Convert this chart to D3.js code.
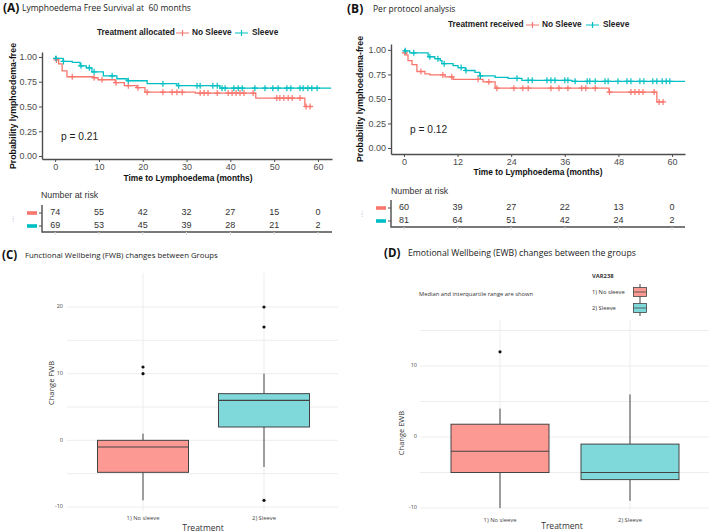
<!DOCTYPE html>
<html><head><meta charset="utf-8">
<script src="https://cdn.jsdelivr.net/npm/d3@7"></script>
<style>body{margin:0;background:#fff} svg{display:block} text{white-space:pre}</style>
</head><body><svg id="c" width="709" height="532"></svg>
<script>
// ================= DATA =================
const groupNames = ["No Sleeve", "Sleeve"];
const boxGroups = ["1) No sleeve", "2) Sleeve"];

// Panel A: Kaplan-Meier, treatment allocated
const kmA_noSleeve_time = [0, 0.2, 0.8, 1.6, 2.7, 8.7, 9.8, 13.7, 15.8, 18.7, 20.5, 32, 45.8, 57];
const kmA_noSleeve_surv = [1, 0.97, 0.93, 0.86, 0.80, 0.79, 0.77, 0.74, 0.71, 0.69, 0.645, 0.635, 0.585, 0.50];
const kmA_noSleeve_end = 58.8;
const kmA_noSleeve_censor = [0.3, 3.9, 8.9, 10.7, 13.9, 16.7, 18.9, 21, 24.6, 26.7, 27.8, 29, 33.1, 34, 34.9, 37, 39.5, 40.4, 41.3, 42.2, 43.1, 45.2, 50.6, 51.3, 52.2, 53.2, 54.1, 55.9, 57.3, 58.2];
const kmA_sleeve_time = [0, 0.1, 1.8, 3.9, 5.7, 7.1, 8.4, 11, 14.1, 16.4, 21, 27.8, 37.6];
const kmA_sleeve_surv = [1, 0.985, 0.955, 0.945, 0.91, 0.89, 0.85, 0.81, 0.78, 0.76, 0.73, 0.71, 0.685];
const kmA_sleeve_end = 63;
const kmA_sleeve_censor = [0.2, 1.9, 5.9, 7.8, 8.9, 13, 16.7, 24.6, 28.2, 32.4, 33.1, 36, 37, 38.1, 38.8, 40.8, 41.8, 42.7, 45.6, 47.9, 49.7, 50.9, 52.9, 53.8, 55.9, 56.6, 57.7, 58.6, 59.8];
const kmA_xTicks = [0, 10, 20, 30, 40, 50, 60];
const kmA_risk_noSleeve = [74, 55, 42, 32, 27, 15, 0];
const kmA_risk_sleeve = [69, 53, 45, 39, 28, 21, 2];

// Panel B: Kaplan-Meier, per protocol
const kmB_noSleeve_time = [0, 0.1, 0.45, 0.9, 1.8, 2.9, 4.7, 5.8, 9.2, 11, 17.7, 20.4, 45.9, 56.6];
const kmB_noSleeve_surv = [1, 0.97, 0.95, 0.89, 0.85, 0.78, 0.755, 0.745, 0.725, 0.70, 0.675, 0.61, 0.57, 0.47];
const kmB_noSleeve_end = 58;
const kmB_noSleeve_censor = [0.2, 3.8, 8.7, 10.7, 16.6, 19, 20.8, 24.6, 26.6, 27.8, 32.9, 34.7, 36.7, 39.8, 40.7, 42.8, 46, 50.8, 51.7, 52.6, 53.5, 56, 57.1, 58];
const kmB_sleeve_time = [0, 0.1, 1.3, 5.4, 6.9, 8.1, 8.5, 11, 12.1, 13.7, 15.9, 17, 20.4, 23.3, 26.4, 37.6];
const kmB_sleeve_surv = [1, 0.99, 0.97, 0.93, 0.91, 0.89, 0.86, 0.84, 0.82, 0.79, 0.77, 0.735, 0.72, 0.71, 0.69, 0.68];
const kmB_sleeve_end = 62.9;
const kmB_sleeve_censor = [0.3, 2.2, 5.8, 7.6, 9, 12.8, 13.9, 17.1, 25.3, 27.8, 28.7, 32, 32.9, 33.8, 36, 36.7, 38.3, 41, 41.6, 42.8, 45, 45.7, 47.9, 49.9, 50.8, 52.8, 53.7, 55.7, 56.6, 57.8, 58.7, 59.5];
const kmB_xTicks = [0, 12, 24, 36, 48, 60];
const kmB_risk_noSleeve = [60, 39, 27, 22, 13, 0];
const kmB_risk_sleeve = [81, 64, 51, 42, 24, 2];

const kmYTicks = [0, 0.25, 0.5, 0.75, 1];

// Panel C: FWB boxplots
const fwbQ1 = [-4.8, 2];
const fwbMedian = [-1, 6];
const fwbQ3 = [0, 7];
const fwbLow = [-9, -4];
const fwbHigh = [1, 10];
const fwbOutliers = [[10, 11], [20, 17, -9]];
const fwbTicks = [-10, 0, 10, 20];

// Panel D: EWB boxplots
const ewbQ1 = [-5, -6];
const ewbMedian = [-2, -5];
const ewbQ3 = [1.8, -1];
const ewbLow = [-10, -9];
const ewbHigh = [4, 6];
const ewbOutliers = [[12], []];
const ewbTicks = [-10, 0, 10];

// ================= DRAW =================
const RED = "#F8766D", CYAN = "#00BFC4";
const BOXRED = "#FC9992", BOXCYAN = "#7FD9DB";
const svg = d3.select("#c");
const KMFONT = "Liberation Sans, Arial, sans-serif";
const TFONT = "Open Sans, sans-serif";

function survAt(times, surv, t) {
  let s = surv[0];
  for (let i = 0; i < times.length; i++) if (times[i] <= t) s = surv[i];
  return s;
}

function drawKM(c) {
  const g = svg.append("g");
  const x = d3.scaleLinear().domain(c.xDom).range(c.xRange);
  const y = d3.scaleLinear().domain(c.yDom).range(c.yRange);
  // axes
  const yAx = g.append("g").attr("transform", `translate(${c.xRange[0]},0)`)
    .call(d3.axisLeft(y).tickValues(kmYTicks).tickFormat(d3.format(".2f")).tickSize(3).tickPadding(2).tickSizeOuter(0));
  const xAx = g.append("g").attr("transform", `translate(0,${c.yRange[0]})`)
    .call(d3.axisBottom(x).tickValues(c.xTicks).tickSize(3).tickPadding(1.5).tickSizeOuter(0));
  [yAx, xAx].forEach(a => {
    a.select(".domain").attr("stroke", "#4d4d4d").attr("stroke-width", 1.4);
    a.selectAll(".tick line").attr("stroke", "#4d4d4d");
    a.selectAll("text").attr("fill", "#4d4d4d").attr("font-size", 9).attr("font-family", KMFONT);
  });
  // curves
  const line = d3.line().x(d => x(d[0])).y(d => y(d[1])).curve(d3.curveStepAfter);
  c.series.forEach(s => {
    const pts = s.time.map((t, i) => [t, s.surv[i]]);
    pts.push([s.end, s.surv[s.surv.length - 1]]);
    g.append("path").attr("d", line(pts)).attr("fill", "none")
      .attr("stroke", s.color).attr("stroke-width", 1.3);
    g.selectAll(null).data(s.censor).enter().append("path")
      .attr("d", d => { const px = x(d), py = y(survAt(s.time, s.surv, d));
        return `M${px - 3},${py}H${px + 3}M${px},${py - 3}V${py + 3}`; })
      .attr("stroke", s.color).attr("stroke-width", 1.2);
  });
  // p value
  g.append("text").attr("x", c.pPos[0]).attr("y", c.pPos[1]).attr("dominant-baseline", "middle")
    .attr("font-family", KMFONT).attr("font-size", 10.2).attr("fill", "#222").text(c.pText);
  // axis titles
  g.append("text").attr("x", c.xTitlePos[0]).attr("y", c.xTitlePos[1]).attr("text-anchor", "middle")
    .attr("dominant-baseline", "middle").attr("font-family", KMFONT).attr("font-weight", "bold")
    .attr("font-size", 8.4).attr("fill", "#111").text("Time to Lymphoedema (months)");
  g.append("text").attr("transform", `translate(${c.yTitlePos[0]},${c.yTitlePos[1]}) rotate(-90)`)
    .attr("text-anchor", "middle").attr("dominant-baseline", "middle").attr("font-family", KMFONT)
    .attr("font-weight", "bold").attr("font-size", 8.8).attr("fill", "#111").text("Probability lymphoedema-free");
  // legend
  const lg = g.append("g").attr("font-family", KMFONT).attr("font-weight", "bold").attr("font-size", 8.3).attr("fill", "#222");
  lg.append("text").attr("x", c.leg.x0).attr("y", c.leg.y).attr("dominant-baseline", "middle").text(c.leg.title);
  c.leg.items.forEach((it, i) => {
    const col = i === 0 ? RED : CYAN;
    lg.append("path").attr("d", `M${it.lx},${c.leg.y}H${it.lx + 13}M${it.lx + 6.5},${c.leg.y - 3}V${c.leg.y + 3}`)
      .attr("stroke", col).attr("stroke-width", 1.2).attr("fill", "none");
    lg.append("text").attr("x", it.tx).attr("y", c.leg.y).attr("dominant-baseline", "middle").text(groupNames[i]);
  });
  // risk table
  const r = c.risk;
  g.append("text").attr("x", r.titleX).attr("y", r.titleY).attr("dominant-baseline", "middle")
    .attr("font-family", KMFONT).attr("font-size", 8.8).attr("fill", "#333").text("Number at risk");
  g.append("path").attr("d", `M${c.xRange[0]},${r.top}V${r.bottom}H${c.xRange[1]}`)
    .attr("fill", "none").attr("stroke", "#4d4d4d").attr("stroke-width", 1.4);
  [r.rows[0], r.rows[1]].forEach((ry, i) => {
    const vals = i === 0 ? r.noSleeve : r.sleeve;
    g.append("rect").attr("x", r.keyX).attr("y", ry - 1.8).attr("width", 10).attr("height", 3.6)
      .attr("fill", i === 0 ? RED : CYAN);
    g.append("path").attr("d", `M${c.xRange[0] - 3},${ry}H${c.xRange[0]}`).attr("stroke", "#4d4d4d");
    g.selectAll(null).data(vals).enter().append("text")
      .attr("x", (d, j) => x(c.xTicks[j])).attr("y", ry).attr("text-anchor", "middle")
      .attr("dominant-baseline", "middle").attr("font-family", KMFONT).attr("font-size", 9)
      .attr("fill", "#333").text(d => d);
  });
  g.selectAll(null).data(c.xTicks).enter().append("path")
    .attr("d", d => `M${x(d)},${r.bottom}v3`).attr("stroke", "#ddd");
  g.append("text").attr("x", r.keyX - 15).attr("y", (r.rows[0] + r.rows[1]) / 2 + 1).attr("dominant-baseline", "middle")
    .attr("font-size", 8).attr("fill", "#c2b0dd").text("⁞");
  // panel title
  g.append("text").attr("x", c.title.x).attr("y", c.title.y).attr("dominant-baseline", "middle")
    .attr("font-family", TFONT).attr("font-weight", "bold").attr("font-size", 12).attr("fill", "#111").text(c.title.tag);
  g.append("text").attr("x", c.title.tx).attr("y", c.title.y).attr("dominant-baseline", "middle")
    .attr("font-family", TFONT).attr("font-size", c.title.fs).attr("fill", "#222").text(c.title.text);
}

drawKM({
  xDom: [-3, 63.2], xRange: [42, 332], yDom: [-0.03, 1.05], yRange: [159, 52],
  xTicks: kmA_xTicks,
  series: [
    {time: kmA_noSleeve_time, surv: kmA_noSleeve_surv, end: kmA_noSleeve_end, censor: kmA_noSleeve_censor, color: RED},
    {time: kmA_sleeve_time, surv: kmA_sleeve_surv, end: kmA_sleeve_end, censor: kmA_sleeve_censor, color: CYAN}
  ],
  pText: "p = 0.21", pPos: [61, 137],
  xTitlePos: [188, 179], yTitlePos: [14, 106],
  leg: {title: "Treatment allocated", x0: 97, y: 33, items: [{lx: 176, tx: 192}, {lx: 235, tx: 252}]},
  risk: {titleX: 41, titleY: 196, top: 205, bottom: 232, rows: [213, 226], keyX: 27,
         noSleeve: kmA_risk_noSleeve, sleeve: kmA_risk_sleeve},
  title: {tag: "(A)", x: 3, tx: 22, y: 9, fs: 8.5, text: "Lymphoedema Free Survival at  60 months"}
});

drawKM({
  xDom: [-2.9, 62.9], xRange: [391, 685], yDom: [-0.061, 1.06], yRange: [154, 44],
  xTicks: kmB_xTicks,
  series: [
    {time: kmB_noSleeve_time, surv: kmB_noSleeve_surv, end: kmB_noSleeve_end, censor: kmB_noSleeve_censor, color: RED},
    {time: kmB_sleeve_time, surv: kmB_sleeve_surv, end: kmB_sleeve_end, censor: kmB_sleeve_censor, color: CYAN}
  ],
  pText: "p = 0.12", pPos: [410, 130],
  xTitlePos: [538, 173], yTitlePos: [361, 99],
  leg: {title: "Treatment received", x0: 448, y: 25, items: [{lx: 526, tx: 542}, {lx: 586, tx: 603}]},
  risk: {titleX: 391, titleY: 192, top: 200, bottom: 227, rows: [208, 221], keyX: 376,
         noSleeve: kmB_risk_noSleeve, sleeve: kmB_risk_sleeve},
  title: {tag: "(B)", x: 347, tx: 373, y: 10, fs: 8.5, text: "Per protocol analysis"}
});

function drawBox(c) {
  const g = svg.append("g");
  const x = d3.scalePoint().domain(boxGroups).range(c.xCenters);
  const y = d3.scaleLinear().domain([-10, 20]).range(c.yRange10_20);
  const bw = c.boxW;
  // grid
  c.gridVals.forEach(v => g.append("line").attr("x1", c.gridX[0]).attr("x2", c.gridX[1])
    .attr("y1", y(v)).attr("y2", y(v)).attr("stroke", "#ebebeb").attr("stroke-width", 0.9));
  boxGroups.forEach(k => g.append("line").attr("x1", x(k)).attr("x2", x(k))
    .attr("y1", c.gridY[0]).attr("y2", c.gridY[1]).attr("stroke", "#ebebeb").attr("stroke-width", 0.9));
  // tick labels
  c.ticks.forEach(v => g.append("text").attr("x", c.tickX).attr("y", y(v)).attr("text-anchor", "end")
    .attr("dominant-baseline", "middle").attr("font-family", TFONT).attr("font-size", 5.5).attr("fill", "#444").text(v));
  boxGroups.forEach(k => g.append("text").attr("x", x(k)).attr("y", c.catY).attr("text-anchor", "middle")
    .attr("dominant-baseline", "middle").attr("font-family", TFONT).attr("font-size", 5.8).attr("fill", "#444").text(k));
  g.append("text").attr("x", c.xTitle[0]).attr("y", c.xTitle[1]).attr("text-anchor", "middle")
    .attr("dominant-baseline", "middle").attr("font-family", TFONT).attr("font-size", 8.5).attr("fill", "#333").text("Treatment");
  g.append("text").attr("transform", `translate(${c.yTitle[0]},${c.yTitle[1]}) rotate(-90)`).attr("text-anchor", "middle")
    .attr("dominant-baseline", "middle").attr("font-family", TFONT).attr("font-size", 7.5).attr("fill", "#333").text(c.yLabel);
  // boxes
  boxGroups.forEach((k, i) => {
    const cx = x(k);
    g.append("line").attr("x1", cx).attr("x2", cx).attr("y1", y(c.high[i])).attr("y2", y(c.q3[i])).attr("stroke", "#444").attr("stroke-width", 1);
    g.append("line").attr("x1", cx).attr("x2", cx).attr("y1", y(c.q1[i])).attr("y2", y(c.low[i])).attr("stroke", "#444").attr("stroke-width", 1);
    g.append("rect").attr("x", cx - bw / 2).attr("y", y(c.q3[i])).attr("width", bw).attr("height", y(c.q1[i]) - y(c.q3[i]))
      .attr("fill", i === 0 ? BOXRED : BOXCYAN).attr("stroke", "#444").attr("stroke-width", 1);
    g.append("line").attr("x1", cx - bw / 2).attr("x2", cx + bw / 2).attr("y1", y(c.med[i])).attr("y2", y(c.med[i])).attr("stroke", "#444").attr("stroke-width", 1.1);
    g.selectAll(null).data(c.out[i]).enter().append("circle").attr("cx", cx).attr("cy", d => y(d)).attr("r", 1.6).attr("fill", "#111");
  });
  // panel title
  g.append("text").attr("x", c.title.x).attr("y", c.title.y).attr("dominant-baseline", "middle")
    .attr("font-family", TFONT).attr("font-weight", "bold").attr("font-size", 11.5).attr("fill", "#111").text(c.title.tag);
  g.append("text").attr("x", c.title.tx).attr("y", c.title.y).attr("dominant-baseline", "middle")
    .attr("font-family", TFONT).attr("font-size", c.title.fs).attr("fill", "#222").text(c.title.text);
  return g;
}

drawBox({
  xCenters: [143, 264], yRange10_20: [507, 307], boxW: 91,
  gridVals: [-10, -5, 0, 5, 10, 15, 20], gridX: [67, 338], gridY: [273, 511],
  ticks: fwbTicks, tickX: 63, catY: 518, xTitle: [203, 529], yTitle: [52, 383], yLabel: "Change FWB",
  q1: fwbQ1, med: fwbMedian, q3: fwbQ3, low: fwbLow, high: fwbHigh, out: fwbOutliers,
  title: {tag: "(C)", x: 2, tx: 25, y: 256, fs: 7.8, text: "Functional Wellbeing (FWB) changes between Groups"}
});

const gD = drawBox({
  xCenters: [500, 630], yRange10_20: [508, 295], boxW: 98,
  gridVals: [-10, -5, 0, 5, 10, 15], gridX: [420, 709], gridY: [320, 511],
  ticks: ewbTicks, tickX: 417, catY: 520, xTitle: [562, 527], yTitle: [402, 433], yLabel: "Change EWB",
  q1: ewbQ1, med: ewbMedian, q3: ewbQ3, low: ewbLow, high: ewbHigh, out: ewbOutliers,
  title: {tag: "(D)", x: 384, tx: 408, y: 254, fs: 8.7, text: "Emotional Wellbeing (EWB) changes between the groups"}
});

// Panel D legend & note
gD.append("text").attr("x", 419).attr("y", 294).attr("dominant-baseline", "middle")
  .attr("font-family", TFONT).attr("font-size", 5.8).attr("fill", "#333").text("Median and interquartile range are shown");
gD.append("text").attr("x", 592).attr("y", 276).attr("dominant-baseline", "middle")
  .attr("font-family", TFONT).attr("font-weight", "bold").attr("font-size", 5.8).attr("fill", "#333").text("VAR238");
boxGroups.forEach((k, i) => {
  const cy = 292 + i * 16;
  gD.append("text").attr("x", 592).attr("y", cy).attr("dominant-baseline", "middle")
    .attr("font-family", TFONT).attr("font-size", 5.8).attr("fill", "#333").text(k);
  gD.append("line").attr("x1", 640).attr("x2", 640).attr("y1", cy - 8).attr("y2", cy + 8).attr("stroke", "#444");
  gD.append("rect").attr("x", 633.5).attr("y", cy - 4.5).attr("width", 13).attr("height", 9)
    .attr("fill", i === 0 ? BOXRED : BOXCYAN).attr("stroke", "#444").attr("stroke-width", 0.8);
  gD.append("line").attr("x1", 633.5).attr("x2", 646.5).attr("y1", cy).attr("y2", cy).attr("stroke", "#444").attr("stroke-width", 0.8);
});
</script></body></html>
